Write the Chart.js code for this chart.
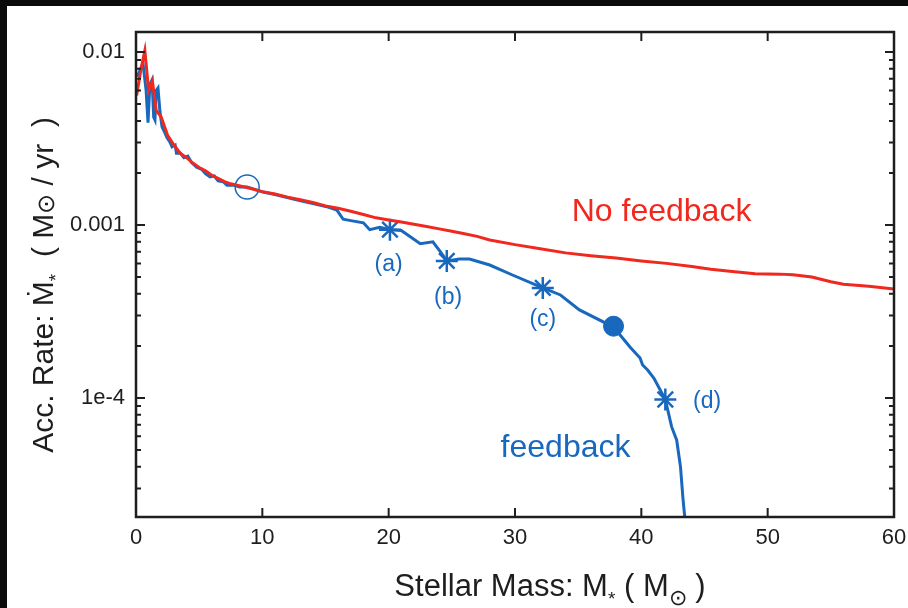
<!DOCTYPE html>
<html>
<head>
<meta charset="utf-8">
<script src="https://cdn.jsdelivr.net/npm/chart.js@4.4.0/dist/chart.umd.min.js"></script>
<style>
  html, body { margin: 0; padding: 0; background: #0b0b0b; }
  #wrap { width: 908px; height: 608px; }
</style>
</head>
<body>
<div id="wrap"><canvas id="grafico" width="908" height="608"></canvas></div>
<script>
// No feedback run (red)
const massNoFb = [0.05, 0.4, 0.7, 1.0, 1.3, 1.6, 2.0, 2.5, 3.0, 3.5, 4.0, 4.5, 5.0, 5.5, 6.0, 6.5, 7.0, 7.5, 8.0, 9.0,
  10, 11, 12, 13, 14, 15, 16, 17, 18, 19, 20, 21, 22, 23, 24, 25, 26, 27, 28, 30, 32, 34, 36, 38, 40, 42, 44, 45.5,
  47, 49, 51, 52, 53.5, 55, 56, 58, 60];
const rateNoFb = [5.6e-3, 8.0e-3, 1.02e-2, 6.0e-3, 6.8e-3, 4.6e-3, 4.2e-3, 3.3e-3, 2.9e-3, 2.6e-3, 2.45e-3, 2.28e-3, 2.15e-3, 2.06e-3, 1.94e-3, 1.86e-3, 1.78e-3, 1.73e-3, 1.70e-3, 1.63e-3,
  1.56e-3, 1.51e-3, 1.45e-3, 1.40e-3, 1.35e-3, 1.29e-3, 1.25e-3, 1.20e-3, 1.15e-3, 1.10e-3, 1.07e-3, 1.04e-3, 1.01e-3, 9.8e-4, 9.5e-4, 9.2e-4, 8.9e-4, 8.6e-4, 8.2e-4, 7.7e-4, 7.3e-4, 6.9e-4, 6.65e-4, 6.45e-4, 6.2e-4, 6.0e-4, 5.75e-4, 5.55e-4,
  5.4e-4, 5.22e-4, 5.2e-4, 5.15e-4, 5.0e-4, 4.7e-4, 4.55e-4, 4.42e-4, 4.27e-4];

// Feedback run (blue)
const massFb = [0.1, 0.55, 0.8, 0.95, 1.1, 1.27, 1.4, 1.5, 1.6, 1.74, 1.9, 2.06, 2.3, 2.45, 2.7, 2.85, 3.1, 3.2, 3.5, 3.8,
  4.1, 4.4, 4.8, 5.2, 5.5, 5.86, 6.2, 6.5, 6.9, 7.2, 7.7, 8.2, 8.8, 10.05, 11, 12.7, 14, 15.2, 15.9, 16.4, 17, 18, 18.5, 19.3,
  20.1, 21, 22.5, 23.5, 24.1, 24.6, 25.6, 26.4, 28, 29.8, 32.2, 33.6, 35.1, 37.8, 39.1, 39.9, 40.1, 40.5, 41, 41.9, 42.4,
  42.8, 43.1, 43.3, 43.45, 43.55];
const rateFb = [7.2e-3, 8.6e-3, 6.0e-3, 3.9e-3, 6.5e-3, 6.9e-3, 4.2e-3, 4.05e-3, 6.0e-3, 6.2e-3, 4.5e-3, 3.7e-3, 3.4e-3, 3.2e-3, 3.0e-3, 2.83e-3, 2.9e-3, 2.6e-3, 2.61e-3, 2.45e-3,
  2.5e-3, 2.3e-3, 2.16e-3, 2.1e-3, 1.98e-3, 1.9e-3, 1.92e-3, 1.80e-3, 1.78e-3, 1.70e-3, 1.70e-3, 1.66e-3, 1.66e-3, 1.55e-3, 1.50e-3, 1.40e-3, 1.33e-3, 1.27e-3, 1.22e-3, 1.08e-3, 1.06e-3, 1.03e-3, 9.4e-4, 9.7e-4,
  9.4e-4, 9.3e-4, 7.8e-4, 8.0e-4, 7.0e-4, 6.2e-4, 6.36e-4, 6.36e-4, 5.87e-4, 5.14e-4, 4.33e-4, 3.94e-4, 3.23e-4, 2.57e-4, 1.97e-4, 1.7e-4, 1.55e-4, 1.45e-4, 1.3e-4, 9.8e-5, 6.8e-5,
  5.7e-5, 4.0e-5, 2.6e-5, 2.0e-5, 1.5e-5];

// markers on the feedback track
const openMass = [8.8], openRate = [1.66e-3];
const dotMass = [37.8], dotRate = [2.6e-4];
const starMass = [20.1, 24.6, 32.2, 41.9];
const starRate = [9.4e-4, 6.2e-4, 4.33e-4, 9.8e-5];

// axis ticks
const xTicks = [0, 10, 20, 30, 40, 50, 60];
const yTickLabels = { '-2': '0.01', '-3': '0.001', '-4': '1e-4' };

const RED = '#f0281e';
const BLUE = '#1868be';
const INK = '#1e1e1e';
const FONT = '"Liberation Sans", Arial, sans-serif';

// text labels, placed in data coordinates
const notes = [
  { text: '(a)', x: 20.0, y: 5.87e-4, size: 23, color: BLUE },
  { text: '(b)', x: 24.7, y: 3.79e-4, size: 23, color: BLUE },
  { text: '(c)', x: 32.2, y: 2.82e-4, size: 23, color: BLUE },
  { text: '(d)', x: 45.2, y: 9.5e-5, size: 23, color: BLUE },
  { text: 'feedback', x: 34.0, y: 5.14e-5, size: 32, color: BLUE },
  { text: 'No feedback', x: 41.6, y: 1.19e-3, size: 32, color: RED }
];

function pts(xs, ys) {
  return xs.map((x, i) => ({ x: x, y: ys[i] }));
}

// draws text with subscript parts, centred at (cx, cy)
function drawRich(ctx, parts, cx, cy, size) {
  const fontOf = p => Math.round(size * (p.scale || 1)) + 'px ' + FONT;
  const widths = parts.map(p => {
    ctx.font = fontOf(p);
    return ctx.measureText(p.t).width;
  });
  const total = widths.reduce((a, b) => a + b, 0);
  let x = cx - total / 2;
  ctx.textAlign = 'left';
  ctx.textBaseline = 'alphabetic';
  parts.forEach((p, i) => {
    ctx.font = fontOf(p);
    ctx.fillText(p.t, x, cy + size * 0.36 + (p.drop || 0) * size);
    x += widths[i];
  });
}

const framePlugin = {
  id: 'frame',
  beforeDraw(chart) {
    const ctx = chart.ctx;
    ctx.save();
    ctx.fillStyle = '#0b0b0b';
    ctx.fillRect(0, 0, chart.width, chart.height);
    ctx.fillStyle = '#ffffff';
    ctx.fillRect(7, 6, chart.width - 7, chart.height - 6);
    ctx.restore();
  },
  afterDraw(chart) {
    const ctx = chart.ctx;
    const a = chart.chartArea;
    const xs = chart.scales.x, ys = chart.scales.y;
    ctx.save();
    ctx.strokeStyle = INK;
    ctx.lineWidth = 2.5;
    ctx.strokeRect(a.left, a.top, a.right - a.left, a.bottom - a.top);

    ctx.lineWidth = 2;
    ctx.beginPath();
    xTicks.slice(1, -1).forEach(v => {
      const px = xs.getPixelForValue(v);
      ctx.moveTo(px, a.bottom); ctx.lineTo(px, a.bottom - 9);
      ctx.moveTo(px, a.top); ctx.lineTo(px, a.top + 9);
    });
    for (let d = -6; d <= -1; d++) {
      for (let m = 1; m <= 9; m++) {
        const v = m * Math.pow(10, d);
        if (v < ys.min || v > ys.max) continue;
        const py = ys.getPixelForValue(v);
        const len = m === 1 ? 9 : 5;
        ctx.moveTo(a.left, py); ctx.lineTo(a.left + len, py);
        ctx.moveTo(a.right, py); ctx.lineTo(a.right - len, py);
      }
    }
    ctx.stroke();

    // notes
    ctx.textAlign = 'center';
    ctx.textBaseline = 'middle';
    notes.forEach(n => {
      ctx.font = n.size + 'px ' + FONT;
      ctx.fillStyle = n.color;
      ctx.fillText(n.text, xs.getPixelForValue(n.x), ys.getPixelForValue(n.y));
    });

    // axis titles
    ctx.fillStyle = INK;
    drawRich(ctx, [
      { t: 'Stellar Mass: M' }, { t: '*', scale: 0.62, drop: 0.3 }, { t: ' ( M' },
      { t: '\u2299', scale: 0.7, drop: 0.28 }, { t: ' )' }
    ], 550, 585, 31);

    ctx.translate(42, 285);
    ctx.rotate(-Math.PI / 2);
    drawRich(ctx, [
      { t: 'Acc. Rate: \u1E40' }, { t: '*', scale: 0.62, drop: 0.3 }, { t: '  ( M' },
      { t: '\u2299', scale: 0.8, drop: 0.05 }, { t: ' / yr  )' }
    ], 0, 0, 30);
    ctx.restore();
  }
};

window.onload = () => {
  const contexto = document.getElementById('grafico');
  new Chart(contexto, {
    type: 'scatter',
    data: {
      datasets: [
        {
          data: pts(massNoFb, rateNoFb),
          showLine: true, borderColor: RED, borderWidth: 3, pointRadius: 0, tension: 0
        },
        {
          data: pts(massFb, rateFb),
          showLine: true, borderColor: BLUE, borderWidth: 3, pointRadius: 0, tension: 0
        },
        {
          data: pts(openMass, openRate),
          pointStyle: 'circle', pointRadius: 12, backgroundColor: '#ffffff', borderColor: BLUE, borderWidth: 1.5
        },
        {
          data: pts(dotMass, dotRate),
          pointStyle: 'circle', pointRadius: 10, backgroundColor: BLUE, borderColor: BLUE, borderWidth: 1
        },
        {
          data: pts(starMass, starRate),
          pointStyle: 'star', pointRadius: 11, borderColor: BLUE, borderWidth: 2.5, backgroundColor: BLUE
        }
      ]
    },
    options: {
      responsive: false,
      animation: false,
      layout: { padding: { top: 32, right: 14, left: 0, bottom: 0 } },
      plugins: { legend: { display: false }, tooltip: { enabled: false } },
      scales: {
        x: {
          type: 'linear', min: 0, max: 60,
          afterFit: s => { s.height = 91; s.paddingLeft = 0; s.paddingRight = 0; },
          afterBuildTicks: s => { s.ticks = xTicks.map(v => ({ value: v })); },
          grid: { display: false, drawTicks: false },
          border: { display: false },
          ticks: { color: INK, font: { family: FONT, size: 22 }, padding: 8, maxRotation: 0, autoSkip: false }
        },
        y: {
          type: 'logarithmic', min: 2.05e-5, max: 1.306e-2,
          afterFit: s => { s.width = 136; s.paddingTop = 0; s.paddingBottom = 0; },
          grid: { display: false, drawTicks: false },
          border: { display: false },
          ticks: {
            color: INK, font: { family: FONT, size: 22 }, padding: 11, autoSkip: false,
            callback: v => {
              const l = Math.log10(v);
              return Math.abs(l - Math.round(l)) < 1e-6 ? (yTickLabels[String(Math.round(l))] || '') : '';
            }
          }
        }
      }
    },
    plugins: [framePlugin]
  });
};
</script>
</body>
</html>
